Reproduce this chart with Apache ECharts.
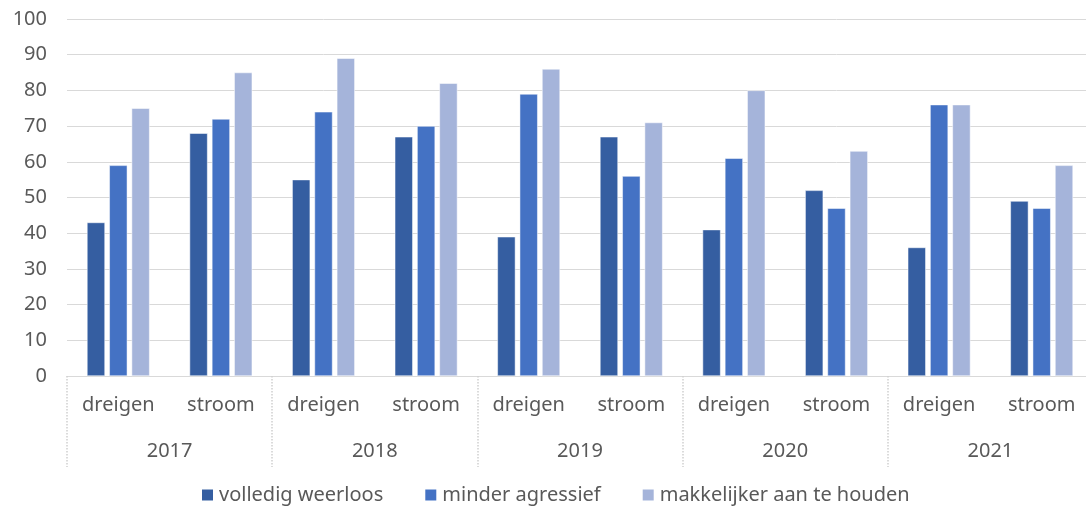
<!DOCTYPE html>
<html>
<head>
    <meta charset="utf-8">
    <title>dreigen / stroom</title>
    <script src="https://cdn.jsdelivr.net/npm/echarts@6/dist/echarts.min.js"></script>
    <style type="text/css">
        body{ margin:0; background:#fff; overflow:hidden; }
    </style>
</head>
<body>
<div id="main" style="width:1093px;height:515px;"></div>

<script type="text/javascript">
    // data
    var jaren = ['2017', '2018', '2019', '2020', '2021'];
    var soorten = ['dreigen', 'stroom'];
    var volledigWeerloos = [43, 68, 55, 67, 39, 67, 41, 52, 36, 49];
    var minderAgressief = [59, 72, 74, 70, 79, 56, 61, 47, 76, 47];
    var makkelijker = [75, 85, 89, 82, 86, 71, 80, 63, 76, 59];
    var yTicks = [0, 100, 10];

    var categorieen = [];
    for (var i = 0; i < jaren.length; i++) {
        for (var j = 0; j < soorten.length; j++) {
            categorieen.push(soorten[j]);
        }
    }

    var font = 'Noto Sans';
    var grijs = '#595959';

    var myChart = echarts.init(document.getElementById('main'));
    myChart.setOption({
        animation: false,
        textStyle: { fontFamily: font },
        legend: {
            data: ['volledig weerloos', 'minder agressief', 'makkelijker aan te houden'],
            bottom: 5,
            left: 195,
            itemWidth: 13,
            itemHeight: 13,
            itemGap: 40,
            icon: 'rect',
            textStyle: { fontSize: 20, color: grijs, fontFamily: font }
        },
        grid: { left: 67, right: 0, top: 19, bottom: 139, containLabel: false },
        xAxis: [{
            type: 'category',
            data: categorieen,
            axisLine: { lineStyle: { color: '#d9d9d9', width: 1 } },
            axisTick: { show: false },
            axisLabel: { color: grijs, fontSize: 20, margin: 19, interval: 0 }
        }, {
            type: 'category',
            data: jaren,
            position: 'bottom',
            axisLine: { show: false },
            axisTick: {
                show: true, length: 91, alignWithLabel: false, interval: 0,
                lineStyle: { color: '#d0d0d0', type: 'dotted', width: 1.5 }
            },
            axisLabel: { color: grijs, fontSize: 20, margin: 65, interval: 0 }
        }],
        yAxis: {
            type: 'value',
            min: yTicks[0],
            max: yTicks[1],
            interval: yTicks[2],
            axisLabel: { color: grijs, fontSize: 20, margin: 20 },
            axisLine: { show: false },
            axisTick: { show: false },
            splitLine: { lineStyle: { color: '#d9d9d9', width: 1 } }
        },
        series: [{
            name: 'volledig weerloos',
            type: 'bar',
            data: volledigWeerloos,
            barWidth: 18,
            barGap: '24%',
            itemStyle: { color: '#355ea1', borderColor: '#ffffff', borderWidth: 0.5 }
        }, {
            name: 'minder agressief',
            type: 'bar',
            data: minderAgressief,
            barWidth: 18,
            barGap: '24%',
            itemStyle: { color: '#4472c4', borderColor: '#ffffff', borderWidth: 0.5 }
        }, {
            name: 'makkelijker aan te houden',
            type: 'bar',
            data: makkelijker,
            barWidth: 18,
            barGap: '24%',
            itemStyle: { color: '#a5b4da', borderColor: '#ffffff', borderWidth: 0.5 }
        }]
    });
</script>
</body>
</html>
